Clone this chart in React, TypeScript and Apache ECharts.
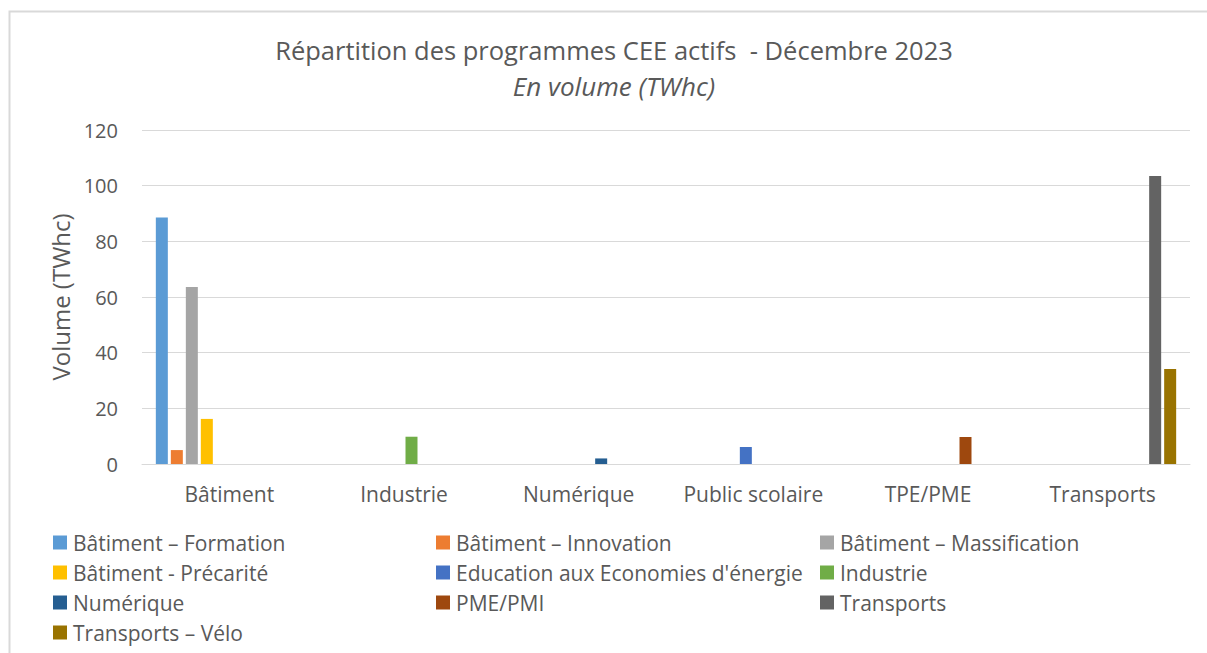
import React, { useEffect, useRef } from "react";
import * as echarts from "echarts";

const categories = ["Bâtiment", "Industrie", "Numérique", "Public scolaire", "TPE/PME", "Transports"];

const seriesNames = [
  "Bâtiment – Formation",
  "Bâtiment – Innovation",
  "Bâtiment – Massification",
  "Bâtiment - Précarité",
  "Education aux Economies d'énergie",
  "Industrie",
  "Numérique",
  "PME/PMI",
  "Transports",
  "Transports – Vélo",
];

const colors = ["#5B9BD5", "#ED7D31", "#A5A5A5", "#FFC000", "#4472C4", "#70AD47", "#255E91", "#9E480E", "#636363", "#997300"];

const batimentFormation = [88.6, null, null, null, null, null];
const batimentInnovation = [5.0, null, null, null, null, null];
const batimentMassification = [63.6, null, null, null, null, null];
const batimentPrecarite = [16.2, null, null, null, null, null];
const education = [null, null, null, 6.1, null, null];
const industrie = [null, 9.8, null, null, null, null];
const numerique = [null, null, 2.0, null, null, null];
const pmePmi = [null, null, null, null, 9.7, null];
const transports = [null, null, null, null, null, 103.5];
const transportsVelo = [null, null, null, null, null, 34.1];

const seriesValues = [
  batimentFormation,
  batimentInnovation,
  batimentMassification,
  batimentPrecarite,
  education,
  industrie,
  numerique,
  pmePmi,
  transports,
  transportsVelo,
];

const yTicks = { min: 0, max: 120, interval: 20 };

// legend layout: series index -> [column, row]
const legendCells = [
  [0, 0], [1, 0], [2, 0],
  [0, 1], [1, 1], [2, 1],
  [0, 2], [1, 2], [2, 2],
  [0, 3],
];
const legendLefts = [53, 436, 820];
const legendTops = [532, 562, 592, 622];

const FONT = "Open Sans";
const TXT = "#595959";

export default function App() {
  const ref = useRef<HTMLDivElement>(null);
  useEffect(() => {
    if (!ref.current) return;
    const chart = echarts.init(ref.current, null, { renderer: "svg" });
    chart.setOption({
      animation: false,
      backgroundColor: "#ffffff",
      textStyle: { fontFamily: FONT, color: TXT },
      graphic: [
        {
          type: "rect",
          shape: { x: 9.5, y: 11.5, width: 1400, height: 800 },
          style: { fill: "none", stroke: "#d9d9d9", lineWidth: 2 },
          silent: true,
        },
        {
          type: "text",
          x: 614,
          y: 50,
          style: {
            text: "Répartition des programmes CEE actifs  - Décembre 2023",
            fontFamily: FONT,
            fontSize: 25.5,
            fill: TXT,
            align: "center",
            verticalAlign: "middle",
          },
        },
        {
          type: "text",
          x: 614,
          y: 86,
          style: {
            text: "En volume (TWhc)",
            fontFamily: FONT,
            fontSize: 26,
            fontStyle: "italic",
            fill: TXT,
            align: "center",
            verticalAlign: "middle",
          },
        },
      ],
      color: colors,
      grid: { left: 142, right: 17, top: 130, bottom: 189, containLabel: false },
      xAxis: {
        type: "category",
        data: categories,
        axisLine: { show: true, lineStyle: { color: "#d9d9d9", width: 1 } },
        axisTick: { show: false },
        axisLabel: { color: TXT, fontSize: 21, fontFamily: FONT, margin: 19, interval: 0, hideOverlap: false },
      },
      yAxis: {
        type: "value",
        min: yTicks.min,
        max: yTicks.max,
        interval: yTicks.interval,
        name: "Volume (TWhc)",
        nameLocation: "middle",
        nameGap: 70,
        nameTextStyle: { color: TXT, fontSize: 24, fontFamily: FONT },
        axisLine: { show: false },
        axisTick: { show: false },
        axisLabel: { color: TXT, fontSize: 20, fontFamily: FONT, margin: 24 },
        splitLine: { lineStyle: { color: "#d9d9d9", width: 1 } },
      },
      legend: seriesNames.map((name, i) => ({
        orient: "horizontal",
        left: legendLefts[legendCells[i][0]],
        top: legendTops[legendCells[i][1]],
        icon: "rect",
        itemWidth: 14,
        itemHeight: 14,
        padding: 0,
        data: [name],
        textStyle: { color: TXT, fontSize: 21, fontFamily: FONT, padding: [0, 0, 0, 1] },
      })),
      series: seriesNames.map((name, i) => ({
        name,
        type: "bar",
        data: seriesValues[i],
        barWidth: 12,
        barGap: "25%",
        itemStyle: { color: colors[i] },
      })),
    });
    return () => chart.dispose();
  }, []);
  return <div ref={ref} style={{ position: "fixed", left: 0, top: 0, width: 1207, height: 653 }} />;
}
